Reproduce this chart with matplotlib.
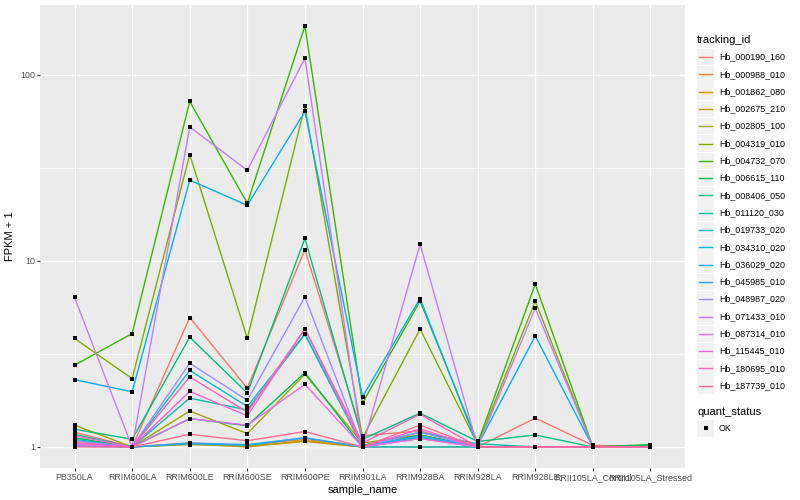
import numpy as np
import matplotlib
matplotlib.use("Agg")
import matplotlib.pyplot as plt

plt.rcParams['font.family'] = ['Liberation Sans', 'DejaVu Sans']

samples = ['PB350LA', 'RRIM600LA', 'RRIM600LE', 'RRIM600SE', 'RRIM600PE', 'RRIM901LA',
           'RRIM928BA', 'RRIM928LA', 'RRIM928LE', 'RRII105LA_Control', 'RRII105LA_Stressed']

tracking_ids = ['Hb_000190_160', 'Hb_000988_010', 'Hb_001862_080', 'Hb_002675_210',
                'Hb_002805_100', 'Hb_004319_010', 'Hb_004732_070', 'Hb_006615_110',
                'Hb_008406_050', 'Hb_011120_030', 'Hb_019733_020', 'Hb_034310_020',
                'Hb_036029_020', 'Hb_045985_010', 'Hb_048987_020', 'Hb_071433_010',
                'Hb_087314_010', 'Hb_115445_010', 'Hb_180695_010', 'Hb_187739_010']

# FPKM + 1, one row per tracking_id, columns follow samples
fpkm = [
    [1.20, 1.00, 4.96, 2.07, 11.5, 1.15, 1.22, 1.00, 1.43, 1.02, 1.00],
    [1.055, 1.00, 1.05, 1.02, 1.10, 1.00, 1.13, 1.00, 1.00, 1.00, 1.00],
    [1.08, 1.00, 1.04, 1.00, 1.08, 1.00, 1.11, 1.00, 1.00, 1.00, 1.00],
    [1.03, 1.00, 1.03, 1.01, 1.07, 1.00, 1.00, 1.00, 1.00, 1.00, 1.00],
    [1.31, 1.00, 1.56, 1.18, 2.46, 1.05, 1.16, 1.00, 1.00, 1.00, 1.00],
    [3.83, 2.33, 37.3, 3.84, 68.0, 1.12, 4.30, 1.03, 6.07, 1.00, 1.00],
    [2.75, 4.07, 72.0, 20.4, 183.0, 1.72, 6.09, 1.05, 7.50, 1.00, 1.03],
    [1.12, 1.00, 1.42, 1.30, 2.51, 1.00, 1.16, 1.00, 1.00, 1.00, 1.02],
    [1.245, 1.10, 3.89, 1.95, 13.2, 1.10, 1.52, 1.07, 1.16, 1.00, 1.02],
    [1.17, 1.00, 1.83, 1.58, 4.04, 1.02, 1.20, 1.04, 1.00, 1.00, 1.00],
    [1.10, 1.00, 2.58, 1.65, 4.04, 1.00, 1.13, 1.00, 1.00, 1.00, 1.00],
    [1.01, 1.00, 1.04, 1.02, 1.12, 1.00, 1.00, 1.00, 1.00, 1.00, 1.00],
    [2.30, 1.98, 27.2, 19.9, 63.6, 1.86, 6.28, 1.02, 3.95, 1.00, 1.00],
    [1.01, 1.00, 1.05, 1.03, 1.12, 1.00, 1.15, 1.00, 1.00, 1.00, 1.00],
    [1.08, 1.00, 2.82, 1.78, 6.40, 1.00, 1.20, 1.00, 1.00, 1.00, 1.00],
    [6.36, 1.00, 52.5, 30.7, 123.0, 1.00, 12.3, 1.00, 5.57, 1.00, 1.00],
    [1.03, 1.00, 1.42, 1.31, 2.17, 1.00, 1.11, 1.00, 1.00, 1.00, 1.00],
    [1.05, 1.00, 1.99, 1.47, 4.31, 1.00, 1.25, 1.00, 1.00, 1.00, 1.00],
    [1.15, 1.00, 2.38, 1.54, 4.31, 1.05, 1.50, 1.00, 1.00, 1.00, 1.00],
    [1.00, 1.00, 1.17, 1.08, 1.21, 1.00, 1.31, 1.00, 1.00, 1.00, 1.00],
]

# ggplot2 default hue palette for 20 levels
colors = ['#F8766D', '#EA8331', '#D89000', '#C09B00', '#A3A500', '#7CAE00', '#39B600',
          '#00BB4E', '#00BF7D', '#00C1A3', '#00BFC4', '#00BAE0', '#00B0F6', '#35A2FF',
          '#9590FF', '#C77CFF', '#E76BF3', '#FA62DB', '#FF62BC', '#FF6C91']

fig = plt.figure(figsize=(8, 5), dpi=100)
ax = fig.add_axes([40/800, 1-468/500, 645/800, 463/500])
ax.set_facecolor('#EBEBEB')
for s in ax.spines.values():
    s.set_visible(False)

x = np.arange(len(samples))
for vals, col in zip(fpkm, colors):
    ax.plot(x, vals, color=col, lw=1.0, zorder=3)
for vals in fpkm:
    ax.plot(x, vals, 's', color='black', ms=2.8, mew=0, zorder=4)

ax.set_yscale('log')
allv = np.log10(np.array(fpkm))
lo, hi = allv.min(), allv.max()
pad = (hi - lo) * 0.05
ax.set_ylim(10**(lo - pad), 10**(hi + pad))
ax.set_xlim(-0.6, len(samples) - 0.4)

ax.set_yticks([1, 10, 100])
ax.set_yticklabels(['1', '10', '100'])
ax.set_yticks([10**0.5, 10**1.5], minor=True)
ax.yaxis.set_minor_formatter(matplotlib.ticker.NullFormatter())
ax.set_xticks(x)
ax.set_xticklabels(samples)
ax.tick_params(axis='both', which='major', length=2.0, width=0.8, color='#333333',
               labelsize=6.4, labelcolor='#4D4D4D', pad=1.5)
ax.tick_params(axis='y', which='minor', length=0)
ax.grid(True, which='major', color='white', lw=1.0)
ax.grid(True, which='minor', axis='y', color='white', lw=0.5)
ax.set_axisbelow(True)

ax.set_xlabel('sample_name', fontsize=8, labelpad=2)
ax.set_ylabel('FPKM + 1', fontsize=8, labelpad=4)

# legend drawn in pixel coordinates
lg = fig.add_axes([0, 0, 1, 1], zorder=5)
lg.set_xlim(0, 800)
lg.set_ylim(500, 0)
lg.axis('off')
lg.text(697, 40, 'tracking_id', fontsize=8, va='center', ha='left')
step = 17.3
y0 = 57
for i, (tid, col) in enumerate(zip(tracking_ids, colors)):
    yc = y0 + i * step
    lg.add_patch(plt.Rectangle((697, yc - 8.3), 17, 16.6, color='#F2F2F2', lw=0))
    lg.plot([699, 712], [yc, yc], color=col, lw=1.0)
    lg.text(719, yc, tid, fontsize=6.4, va='center', ha='left')

lg.text(697, 412, 'quant_status', fontsize=8, va='center', ha='left')
lg.add_patch(plt.Rectangle((697, 420), 17, 16.6, color='#F2F2F2', lw=0))
lg.plot([705.5], [428.3], 's', color='black', ms=2.8, mew=0)
lg.text(719, 428.3, 'OK', fontsize=6.4, va='center', ha='left')

fig.savefig('out.png', dpi=100)
